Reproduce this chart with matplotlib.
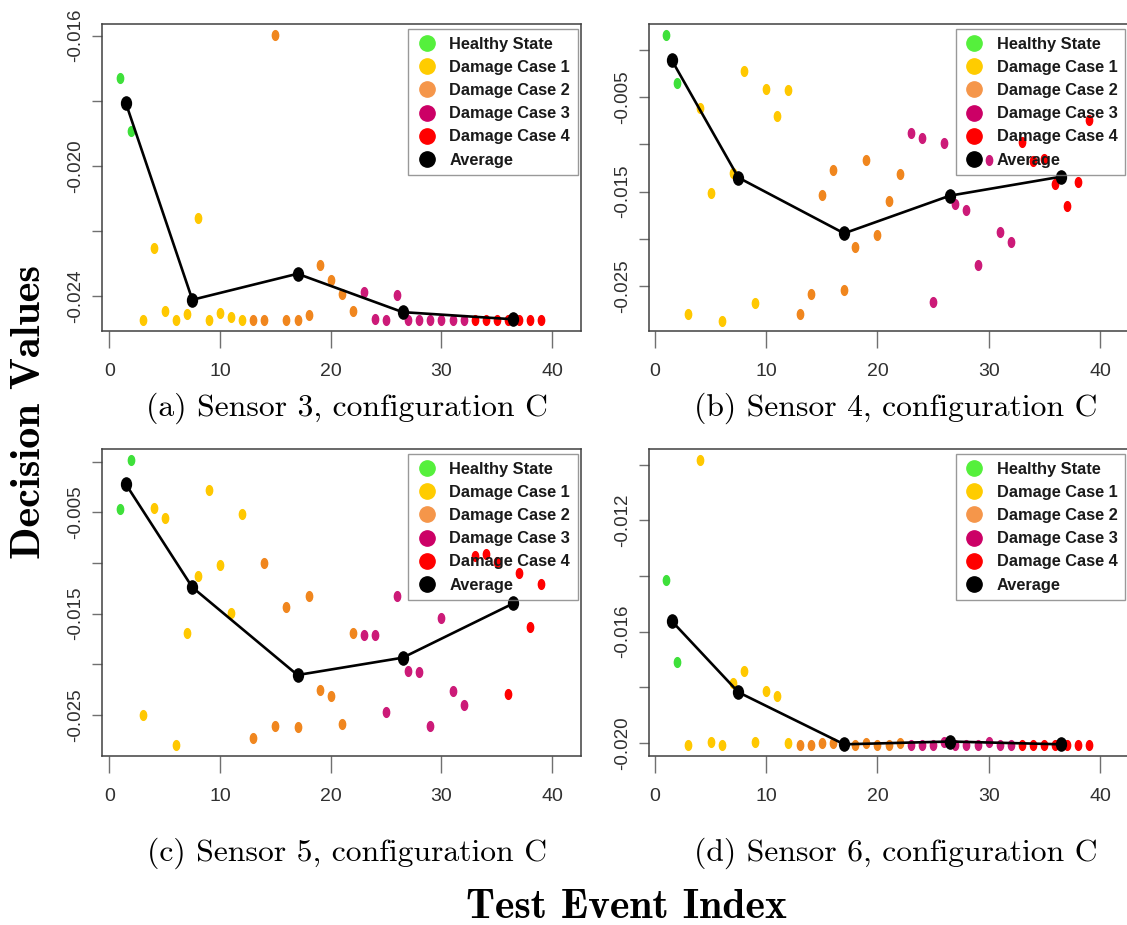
import numpy as np
import matplotlib
matplotlib.use("Agg")
import matplotlib.pyplot as plt
from matplotlib import font_manager
from matplotlib.path import Path
from matplotlib.transforms import Affine2D
from matplotlib.lines import Line2D

# ----------------------------------------
# 1 — Data
# ----------------------------------------
event_index = np.arange(1, 40)
group_sizes = [2, 10, 10, 10, 7]
group_names = ["Healthy State", "Damage Case 1", "Damage Case 2",
               "Damage Case 3", "Damage Case 4"]
avg_index = [1.5, 7.5, 17, 26.5, 36.5]

sensor3 = [-0.01731, -0.01892,
           -0.02474, -0.02254, -0.02448, -0.02474, -0.02456, -0.02161, -0.02474, -0.02453, -0.02466, -0.02474,
           -0.02474, -0.02474, -0.01598, -0.02474, -0.02474, -0.02459, -0.02306, -0.02351, -0.02395, -0.02445,
           -0.02389, -0.02471, -0.02474, -0.02398, -0.02474, -0.02474, -0.02474, -0.02474, -0.02474, -0.02474,
           -0.02474, -0.02474, -0.02474, -0.02474, -0.02474, -0.02474, -0.02474]
sensor3_avg = [-0.01808, -0.02412, -0.02332, -0.0245, -0.02472]

sensor4 = [0.00156, -0.00355,
           -0.02799, -0.0062, -0.01519, -0.02866, -0.0130, -0.00225, -0.02683, -0.00415, -0.00705, -0.00429,
           -0.02799, -0.02584, -0.01533, -0.01276, -0.02542, -0.0209, -0.0117, -0.0196, -0.01604, -0.01315,
           -0.00881, -0.00937, -0.02672, -0.00983, -0.01635, -0.01695, -0.02277, -0.0117, -0.01925, -0.0203,
           -0.00972, -0.0118, -0.01152, -0.01417, -0.01653, -0.01396, -0.00743]
sensor4_avg = [-0.00109, -0.01353, -0.01942, -0.01544, -0.01343]

sensor5 = [-0.00464, 0.00013,
           -0.025, -0.00461, -0.00556, -0.02796, -0.01694, -0.01125, -0.00283, -0.01016, -0.0149, -0.00513,
           -0.0273, -0.00999, -0.02605, -0.01431, -0.02615, -0.01326, -0.0225, -0.02309, -0.02592, -0.01694,
           -0.01707, -0.01707, -0.0247, -0.01322, -0.02062, -0.02075, -0.02605, -0.01546, -0.0226, -0.02401,
           -0.00931, -0.00911, -0.00993, -0.02293, -0.01102, -0.01628, -0.01207]
sensor5_avg = [-0.00224, -0.0124, -0.02105, -0.01934, -0.01398]

sensor6 = [-0.01414, -0.0171,
           -0.02007, -0.00983, -0.01996, -0.02007, -0.01786, -0.0174, -0.01996, -0.01812, -0.0183, -0.02001,
           -0.02007, -0.02007, -0.02001, -0.02001, -0.02007, -0.02007, -0.02001, -0.02007, -0.02007, -0.02001,
           -0.02007, -0.02007, -0.02007, -0.01998, -0.02007, -0.02007, -0.02007, -0.01995, -0.02007, -0.02007,
           -0.02007, -0.02007, -0.02007, -0.02007, -0.02007, -0.02007, -0.02007]
sensor6_avg = [-0.01562, -0.01818, -0.02005, -0.01995, -0.02005]

captions = ["(a) Sensor 3, configuration C", "(b) Sensor 4, configuration C",
            "(c) Sensor 5, configuration C", "(d) Sensor 6, configuration C"]

# ----------------------------------------
# 2 — Styling
# ----------------------------------------
point_colors = ["#3ee03a", "#ffc800", "#f0861e", "#cc1a78", "#ff0000"]
legend_colors = ["#55f03c", "#ffcc00", "#f5964a", "#cc0066", "#ff0000"]

names = {f.name for f in font_manager.fontManager.ttflist}
narrow = "Liberation Sans Narrow" if "Liberation Sans Narrow" in names else "Liberation Sans"
legend_size = 12.7 if narrow == "Liberation Sans Narrow" else 11.8
serif = "cmr10" if "cmr10" in names else "DejaVu Serif"
serif_bold = "cmb10" if "cmb10" in names else "DejaVu Serif"

# R-style dots come out taller than wide
dot = Path.unit_circle().transformed(Affine2D().scale(0.65, 1.0))
big_dot = Path.unit_circle().transformed(Affine2D().scale(0.75, 1.0))

W, H = 1127, 925
fig = plt.figure(figsize=(W / 100, H / 100), dpi=100)


def add_axes_px(left, top, right, bottom):
    return fig.add_axes([left / W, 1 - bottom / H, (right - left) / W, (bottom - top) / H])


panels = [
    # values, averages, box (l, t, r, b), xlim, ylim, ticks, labelled ticks, legend (right, top), caption (x, y)
    (sensor3, sensor3_avg, (101.7, 24, 580.7, 331), (-0.69, 42.58), (-0.02508, -0.01564),
     [-0.024, -0.022, -0.020, -0.018, -0.016], [-0.024, -0.020, -0.016], (577.7, 29.3), (347, 416)),
    (sensor4, sensor4_avg, (649, 24, 1140, 331), (-0.54, 43.6), (-0.02975, 0.00272),
     [-0.025, -0.020, -0.015, -0.010, -0.005, 0.0], [-0.025, -0.015, -0.005], (1125.3, 29.3), (896, 416)),
    (sensor5, sensor5_avg, (101.7, 449, 580.7, 756), (-0.69, 42.58), (-0.02904, 0.00125),
     [-0.025, -0.020, -0.015, -0.010, -0.005, 0.0], [-0.025, -0.015, -0.005], (577.7, 454.3), (347, 861)),
    (sensor6, sensor6_avg, (649, 449, 1140, 756), (-0.54, 43.6), (-0.02047, -0.00944),
     [-0.020, -0.018, -0.016, -0.014, -0.012, -0.010], [-0.020, -0.016, -0.012], (1125.3, 454.3), (896, 861)),
]

# ----------------------------------------
# 3 — Panels
# ----------------------------------------
for k, (vals, avg, box, xlim, ylim, yt, ylab, leg_pos, cap_pos) in enumerate(panels):
    ax = add_axes_px(*box)
    vals = np.array(vals)
    start = 0
    for g, n in enumerate(group_sizes):
        ax.plot(event_index[start:start + n], vals[start:start + n], linestyle="none",
                marker=dot, ms=7, color=point_colors[g], mec=point_colors[g], zorder=3)
        start += n
    ax.plot(avg_index, avg, "-", color="black", lw=1.9, marker=big_dot, ms=9.5, zorder=4)

    ax.set_xlim(*xlim)
    ax.set_ylim(*ylim)
    ax.set_xticks([0, 10, 20, 30, 40])
    ax.set_yticks(yt)
    ax.set_yticklabels([f"{v:.3f}" if any(abs(v - l) < 1e-9 for l in ylab) else "" for v in yt])
    for sp in ax.spines.values():
        sp.set_color("#404040")
        sp.set_linewidth(1.1)
    ax.tick_params(axis="x", direction="out", length=12, width=1.0, color="#707070",
                   pad=11, labelsize=14, labelcolor="#303030")
    ax.tick_params(axis="y", direction="out", length=7, width=1.0, color="#707070",
                   pad=6, labelsize=13.5, labelcolor="#303030")
    for lab in ax.get_xticklabels():
        lab.set_fontfamily(narrow)
    for lab in ax.get_yticklabels():
        lab.set_fontfamily("Liberation Sans")
        lab.set_rotation(90)
        lab.set_va("center")
        lab.set_ha("right")

    handles = [Line2D([], [], linestyle="none", marker="o", ms=11, color=c, mec=c)
               for c in legend_colors]
    handles.append(Line2D([], [], linestyle="none", marker="o", ms=11, color="black"))
    leg = ax.legend(handles, group_names + ["Average"], loc="upper right",
                    bbox_to_anchor=(leg_pos[0] / W, 1 - leg_pos[1] / H),
                    bbox_transform=fig.transFigure, borderaxespad=0,
                    prop={"family": narrow, "weight": "bold", "size": legend_size},
                    fancybox=False, borderpad=0.45, labelspacing=0.5,
                    handlelength=1.3, handletextpad=0.75)
    leg.get_frame().set_facecolor("none")
    leg.get_frame().set_edgecolor("#808080")
    leg.get_frame().set_linewidth(1.0)
    for t in leg.get_texts():
        t.set_color("#1a1a1a")

    fig.text(cap_pos[0] / W, 1 - cap_pos[1] / H, captions[k], family=serif,
             fontsize=22.8, ha="center", va="baseline")

# ----------------------------------------
# 4 — Shared axis titles
# ----------------------------------------
fig.text(626 / W, 1 - 918 / H, "Test Event Index", family=serif_bold,
         fontsize=30, ha="center", va="baseline")
fig.text(40 / W, 1 - 412 / H, "Decision Values", family=serif_bold, fontsize=30.5,
         rotation=90, rotation_mode="anchor", ha="center", va="baseline")

fig.savefig("out.png", dpi=100)
